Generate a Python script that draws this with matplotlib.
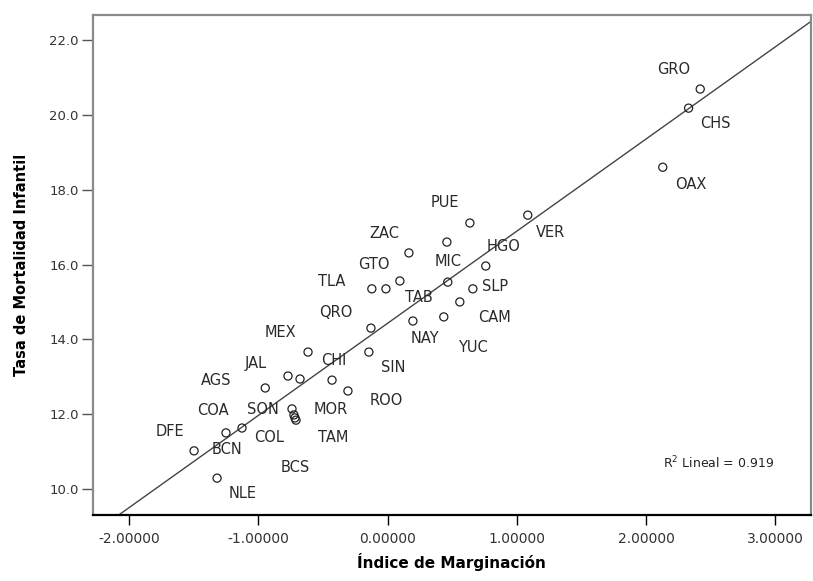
import numpy as np
import matplotlib
matplotlib.use('Agg')
import matplotlib.pyplot as plt

# Indice de marginacion vs tasa de mortalidad infantil, por entidad
states = ['GRO', 'CHS', 'OAX', 'VER', 'PUE', 'MIC', 'HGO', 'ZAC', 'TLA', 'DGO',
          'GTO', 'TAB', 'SLP', 'CAM', 'YUC', 'NAY', 'QRO', 'MEX', 'SIN', 'JAL',
          'CHI', 'MOR', 'AGS', 'ROO', 'SON', 'COL', 'TAM', 'BCS', 'COA', 'BCN',
          'DFE', 'NLE']
marginacion = [2.42, 2.33, 2.13, 1.085, 0.637, 0.459, 0.76, 0.165, -0.122, -0.013,
               0.095, 0.466, 0.66, 0.559, 0.435, 0.196, -0.129, -0.616, -0.145, -0.771,
               -0.678, -0.43, -0.947, -0.307, -0.74, -0.725, -0.709, -0.717, -1.127, -1.251,
               -1.498, -1.32]
mortalidad = [20.69, 20.18, 18.6, 17.32, 17.11, 16.6, 15.96, 16.31, 15.35, 15.35,
              15.56, 15.53, 15.35, 15.0, 14.6, 14.49, 14.3, 13.66, 13.66, 13.02,
              12.94, 12.91, 12.7, 12.62, 12.14, 11.98, 11.84, 11.9, 11.63, 11.5,
              11.02, 10.29]
# label offsets in pixels (x right, y down)
label_dx = [-27, 27, 28, 23, -25, 1, 18, -25, -40, 0,
            -26, -29, 22, 35, 29, 12, -35, -28, 24, -32,
            34, -1, -49, 38, -29, -25, 37, 0, -29, 1,
            -24, 26]
label_dy = [-20, 15, 17, 17, -20, 19, -20, -19, -7, 0,
            -16, 15, -2, 16, 31, 17, -16, -20, 15, -13,
            -19, 29, -7, 10, 1, 23, 17, 50, -18, 17,
            -19, 15]
show_label = [s != 'DGO' for s in states]

r2_text = 'R$^2$ Lineal = 0.919'

fig = plt.figure(figsize=(8.13, 5.81), dpi=100)
ax = fig.add_axes([0.114, 0.1136, 0.8836, 0.861])

x = np.array(marginacion)
y = np.array(mortalidad)
ax.scatter(x, y, s=34, facecolors='none', edgecolors='#222222', linewidths=0.9, zorder=3)

# regression line
slope, intercept = np.polyfit(x, y, 1)
xl = np.array([-2.283, 3.278])
ax.plot(xl, intercept + slope * xl, color='#444444', lw=1.0, zorder=2)

for i, s in enumerate(states):
    if not show_label[i]:
        continue
    ax.annotate(s, (x[i], y[i]), xytext=(label_dx[i], -label_dy[i]),
                textcoords='offset pixels', ha='center', va='center',
                fontsize=10.5, color='#2a2a2a')

ax.text(0.871, 0.104, r2_text, transform=ax.transAxes, ha='center', va='center',
        fontsize=9, color='#222222')

ax.set_xlim(-2.283, 3.278)
ax.set_ylim(9.305, 22.676)
ax.set_xticks([-2, -1, 0, 1, 2, 3])
ax.set_xticklabels(['-2.00000', '-1.00000', '0.00000', '1.00000', '2.00000', '3.00000'])
ax.set_yticks([10, 12, 14, 16, 18, 20, 22])
ax.set_yticklabels(['10.0', '12.0', '14.0', '16.0', '18.0', '20.0', '22.0'])
ax.tick_params(axis='x', direction='out', length=7, width=1, pad=5, labelsize=10,
               labelcolor='#333333')
ax.tick_params(axis='y', direction='out', length=8, width=1, pad=2, labelsize=9.5,
               labelcolor='#333333', color='#555555')

for side in ['top', 'right', 'left']:
    ax.spines[side].set_color('#8a8a8a')
    ax.spines[side].set_linewidth(1.6)
ax.spines['bottom'].set_color('black')
ax.spines['bottom'].set_linewidth(1.6)

ax.set_xlabel('Índice de Marginación', fontsize=11, fontweight='bold')
ax.set_ylabel('Tasa de Mortalidad Infantil', fontsize=10.5, fontweight='bold')
ax.xaxis.set_label_coords(0.5, -0.075)
ax.yaxis.set_label_coords(-0.088, 0.5)

fig.savefig('out.png', dpi=100)
